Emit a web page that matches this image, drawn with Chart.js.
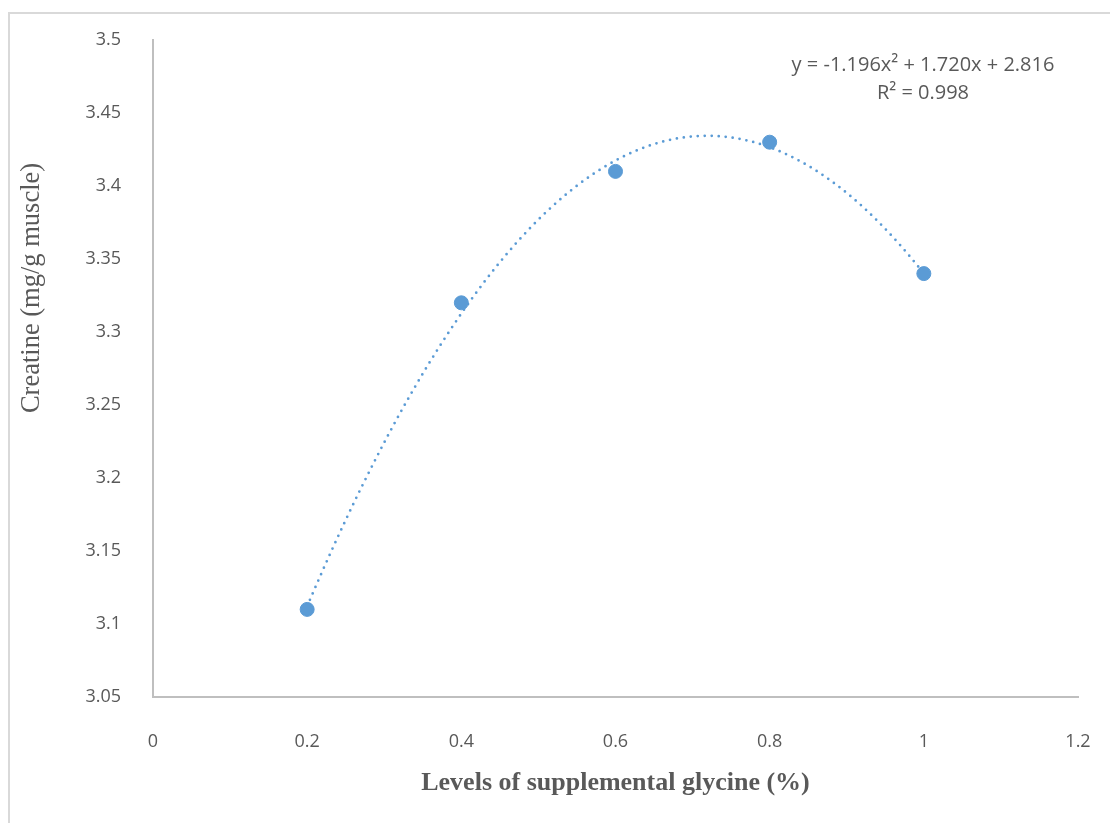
<!DOCTYPE html>
<html>
<head>
<meta charset="utf-8">
<title>Creatine vs supplemental glycine</title>
<script src="https://cdn.jsdelivr.net/npm/chart.js@4/dist/chart.umd.min.js"></script>
<style>
  html, body { margin: 0; padding: 0; background: #fff; }
  #wrap { width: 1110px; height: 823px; }
</style>
</head>
<body>
<div id="wrap"><canvas id="chart" width="1110" height="823"></canvas></div>
<script>
// measured levels and creatine content
const glycineLevels = [0.2, 0.4, 0.6, 0.8, 1.0];
const creatine      = [3.11, 3.32, 3.41, 3.43, 3.34];

// polynomial trend coefficients (a, b, c for ax^2 + bx + c) and fit
const trendCoef = [-1.196, 1.720, 2.816];
const trendR2   = 0.998;

const xTicks = [0, 0.2, 0.4, 0.6, 0.8, 1, 1.2];
const yTicks = [3.05, 3.1, 3.15, 3.2, 3.25, 3.3, 3.35, 3.4, 3.45, 3.5];

const TEXT = '#595959';
const AXIS = '#bfbfbf';
const BLUE = '#5b9bd5';
const TICK_FONT = "'Open Sans', 'Liberation Sans', sans-serif";
const SERIF = "'Liberation Serif', 'DejaVu Serif', serif";

const fmt = v => String(Math.round(v * 100) / 100);

// outer frame, dotted trend curve, axis titles and the equation
const decor = {
  id: 'decor',
  beforeDraw(chart) {
    const ctx = chart.ctx;
    ctx.save();
    ctx.strokeStyle = '#d9d9d9';
    ctx.lineWidth = 2;
    ctx.strokeRect(9, 13, 1200, 900);
    ctx.restore();
  },
  beforeDatasetsDraw(chart) {
    const { ctx, scales: { x, y } } = chart;
    const [a, b, c] = trendCoef;
    const x0 = glycineLevels[0], x1 = glycineLevels[glycineLevels.length - 1];
    ctx.save();
    ctx.strokeStyle = BLUE;
    ctx.lineWidth = 2.75;
    ctx.lineCap = 'round';
    ctx.setLineDash([0, 7]);
    ctx.beginPath();
    const steps = 200;
    for (let i = 0; i <= steps; i++) {
      const xv = x0 + (x1 - x0) * i / steps;
      const yv = a * xv * xv + b * xv + c;
      const px = x.getPixelForValue(xv), py = y.getPixelForValue(yv);
      if (i === 0) ctx.moveTo(px, py); else ctx.lineTo(px, py);
    }
    ctx.stroke();
    ctx.restore();
  },
  afterDraw(chart) {
    const { ctx, chartArea } = chart;
    ctx.save();
    ctx.fillStyle = TEXT;
    ctx.textAlign = 'center';
    ctx.textBaseline = 'middle';

    // x title
    ctx.font = "bold 26px " + SERIF;
    ctx.fillText('Levels of supplemental glycine (%)', (chartArea.left + chartArea.right) / 2, 783);

    // y title
    ctx.save();
    ctx.translate(32, 288);
    ctx.rotate(-Math.PI / 2);
    ctx.font = "26.5px " + SERIF;
    ctx.fillText('Creatine (mg/g muscle)', 0, 0);
    ctx.restore();

    // trend equation
    const [a, b, c] = trendCoef;
    ctx.font = "20px " + TICK_FONT;
    const eq = 'y = ' + a.toFixed(3) + 'x\u00B2 + ' + b.toFixed(3) + 'x + ' + c.toFixed(3);
    ctx.fillText(eq, 923, 65);
    ctx.fillText('R\u00B2 = ' + trendR2.toFixed(3), 923, 93);
    ctx.restore();
  }
};

new Chart(document.getElementById('chart'), {
  type: 'scatter',
  data: {
    datasets: [{
      data: glycineLevels.map((v, i) => ({ x: v, y: creatine[i] })),
      backgroundColor: BLUE,
      borderColor: BLUE,
      pointRadius: 7,
      pointHoverRadius: 7
    }]
  },
  options: {
    responsive: false,
    animation: false,
    layout: { padding: { top: 40, right: 32, left: 0, bottom: 0 } },
    plugins: { legend: { display: false }, tooltip: { enabled: false } },
    scales: {
      x: {
        type: 'linear',
        min: 0, max: 1.2,
        afterBuildTicks: s => { s.ticks = xTicks.map(v => ({ value: v })); },
        afterFit: s => { s.height = 126; s.paddingLeft = 0; s.paddingRight = 0; },
        grid: { display: false },
        border: { display: true, color: AXIS, width: 2 },
        ticks: { color: TEXT, padding: 26, font: { family: TICK_FONT, size: 18 }, callback: fmt, maxRotation: 0 }
      },
      y: {
        type: 'linear',
        min: 3.05, max: 3.5,
        afterBuildTicks: s => { s.ticks = yTicks.map(v => ({ value: v })); },
        afterFit: s => { s.width = 153; },
        grid: { display: false },
        border: { display: true, color: AXIS, width: 2 },
        ticks: { color: TEXT, padding: 24, font: { family: TICK_FONT, size: 18 }, callback: fmt }
      }
    }
  },
  plugins: [decor]
});
</script>
</body>
</html>
